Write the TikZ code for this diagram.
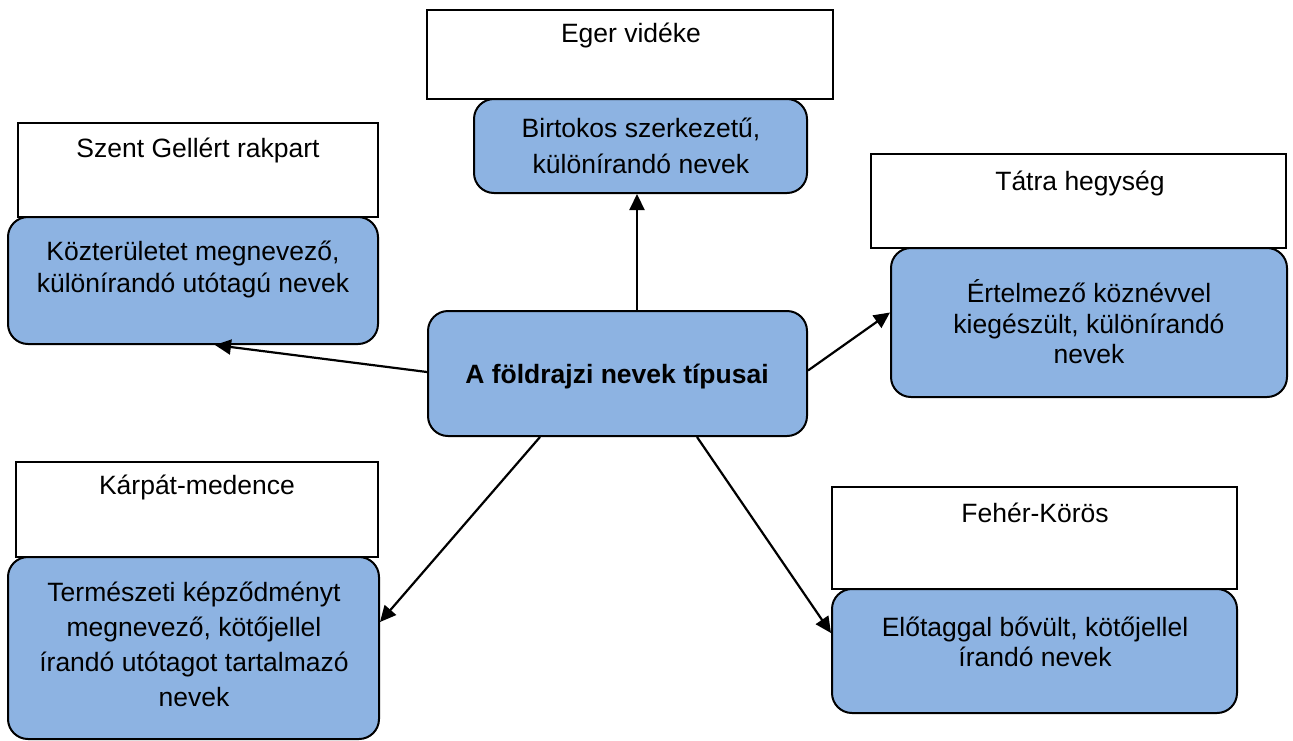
\documentclass[tikz,border=0pt]{standalone}
\usepackage{fontspec}
\setmainfont{Liberation Sans}
\usetikzlibrary{arrows.meta,calc}
\definecolor{boxblue}{RGB}{141,179,226}
\begin{document}
\begin{tikzpicture}[x=1pt,y=-1pt,
  wbox/.style={draw=black, line width=1.5pt, fill=white, inner sep=0pt},
  bbox/.style={draw=black, line width=2pt, fill=boxblue, rounded corners=20pt, inner sep=0pt},
  lbl/.style={font=\fontsize{26.5}{31}\selectfont, align=center, inner sep=0pt},
  arr/.style={line width=2.2pt, -{Triangle[length=16pt,width=15pt]}}]
\useasboundingbox (0,0) rectangle (1293,740);
% white boxes
\node[wbox, minimum width=406pt, minimum height=89pt] (egerw) at (630,54.5) {};
\node[wbox, minimum width=360pt, minimum height=94pt] (szentw) at (198,170) {};
\node[wbox, minimum width=415pt, minimum height=94pt] (tatraw) at (1078.5,201) {};
\node[wbox, minimum width=362pt, minimum height=95pt] (karpw) at (197,509.5) {};
\node[wbox, minimum width=405pt, minimum height=102pt] (feherw) at (1034.5,538) {};
% blue boxes
\node[bbox, minimum width=333pt, minimum height=94pt] (bir) at (640.5,146) {};
\node[bbox, minimum width=370pt, minimum height=127pt] (kozt) at (193,280.5) {};
\node[bbox, minimum width=396pt, minimum height=149pt] (ert) at (1089,322.5) {};
\node[bbox, minimum width=379pt, minimum height=125pt] (c) at (617.5,373.5) {};
\node[bbox, minimum width=371pt, minimum height=182pt] (term) at (193.5,648) {};
\node[bbox, minimum width=405pt, minimum height=124pt] (elot) at (1034.5,651) {};
% texts
\node[lbl] (egerwt) at (631,35) {Eger vidéke};
\node[lbl] (szentwt) at (198,150) {Szent Gellért rakpart};
\node[lbl] (tatrawt) at (1080,183) {Tátra hegység};
\node[lbl] (karpwt) at (197,487) {Kárpát-medence};
\node[lbl] (feherwt) at (1035,513) {Fehér-Körös};
\node[lbl, font=\fontsize{26.5}{36}\selectfont] (birt) at (641,146) {Birtokos szerkezetű,\\különírandó nevek};
\node[lbl, font=\fontsize{26.5}{32}\selectfont] (koztt) at (193,269) {Közterületet megnevező,\\különírandó utótagú nevek};
\node[lbl, font=\fontsize{26.5}{30.5}\selectfont] (ertt) at (1089,322) {Értelmező köznévvel\\kiegészült, különírandó\\nevek};
\node[lbl, font=\fontsize{26.5}{31}\selectfont\bfseries] (ct) at (617,377) {A földrajzi nevek típusai};
\node[lbl, font=\fontsize{26.5}{35}\selectfont] (termt) at (194,644.5) {Természeti képződményt\\megnevező, kötőjellel\\írandó utótagot tartalmazó\\nevek};
\node[lbl, font=\fontsize{26.5}{30}\selectfont] (elott) at (1035,642) {Előtaggal bővült, kötőjellel\\írandó nevek};
% arrows
\draw[arr] ([xshift=19.5pt]c.north) -- ([xshift=19.5pt]c.north |- bir.south);
\draw[arr] ([yshift=1.5pt]c.west) -- ([xshift=22pt]kozt.south);
\draw[arr] ([yshift=3pt]c.east) -- ([yshift=10pt]ert.west);
\draw[arr] ([xshift=-77.5pt]c.south) -- ([yshift=26pt]term.east);
\draw[arr] ([xshift=79.5pt]c.south) -- ([yshift=18pt]elot.west);
\end{tikzpicture}
\end{document}
